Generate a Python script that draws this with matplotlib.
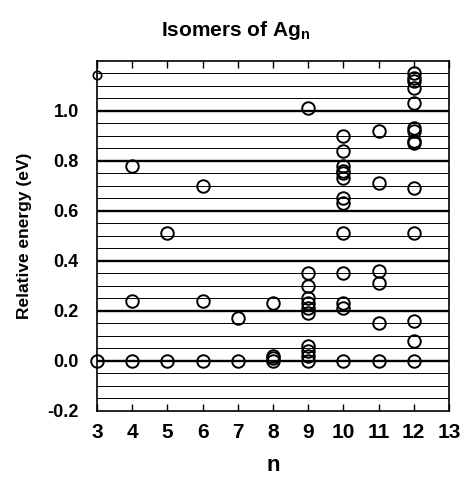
import numpy as np
import matplotlib
matplotlib.use("Agg")
from matplotlib import pyplot as plt
from matplotlib import font_manager

# relative energies (eV) of the isomers found for each cluster size n
ag3 = [0.0]
ag4 = [0.0, 0.24, 0.78]
ag5 = [0.0, 0.51]
ag6 = [0.0, 0.24, 0.70]
ag7 = [0.0, 0.17]
ag8 = [0.0, 0.01, 0.02, 0.23]
ag9 = [0.0, 0.02, 0.04, 0.06, 0.19, 0.21, 0.23, 0.25, 0.30, 0.35, 1.01]
ag10 = [0.0, 0.21, 0.23, 0.35, 0.51, 0.63, 0.65, 0.73, 0.75, 0.76, 0.78, 0.84, 0.90]
ag11 = [0.0, 0.15, 0.31, 0.36, 0.71, 0.92]
ag12 = [0.0, 0.08, 0.16, 0.51, 0.69, 0.87, 0.88, 0.92, 0.93, 1.03, 1.09, 1.12, 1.13, 1.15]
cluster_sizes = [3, 4, 5, 6, 7, 8, 9, 10, 11, 12]
energies = [ag3, ag4, ag5, ag6, ag7, ag8, ag9, ag10, ag11, ag12]

# the one high-lying Ag3 state, drawn with a smaller symbol
ag3_high_n = [3]
ag3_high_e = [1.145]

y_ticks = [-0.2, 0.0, 0.2, 0.4, 0.6, 0.8, 1.0]
x_ticks = [3, 4, 5, 6, 7, 8, 9, 10, 11, 12, 13]

names = {f.name for f in font_manager.fontManager.ttflist}
narrow = "Liberation Sans Narrow" if "Liberation Sans Narrow" in names else "Liberation Sans"
plt.rcParams['font.family'] = [narrow, 'DejaVu Sans']
plt.rcParams['font.weight'] = 'bold'
plt.rcParams['mathtext.fontset'] = 'custom'
plt.rcParams['mathtext.bf'] = narrow + ':bold'
plt.rcParams['mathtext.rm'] = narrow + ':bold'

fig = plt.figure(figsize=(4.63, 4.78), dpi=100)
ax = fig.add_axes([0.2095, 0.1408, 0.760, 0.732])

# grid of horizontal levels: thin every 0.05 eV, heavy every 0.2 eV
for k in range(-3, 24):
    level = k * 0.05
    heavy = k % 4 == 0
    ax.axhline(level, color='black', lw=1.7 if heavy else 0.7, zorder=1)

xs = [n for n, e in zip(cluster_sizes, energies) for _ in e]
ys = [v for e in energies for v in e]
ax.plot(xs, ys, linestyle='none', marker='o', ms=9, mfc='none', mec='black',
        mew=1.4, clip_on=False, zorder=3)
ax.plot(ag3_high_n, ag3_high_e, linestyle='none', marker='o', ms=6, mfc='none',
        mec='black', mew=1.2, clip_on=False, zorder=3)

ax.set_xlim(3, 13)
ax.set_ylim(-0.2, 1.2)
ax.set_xticks(x_ticks)
ax.set_yticks(y_ticks)
ax.set_yticklabels([f"{t:.1f}" for t in y_ticks], fontsize=13, fontweight='bold')
ax.set_xticklabels([str(t) for t in x_ticks], fontsize=15, fontweight='bold')
ax.tick_params(axis='x', direction='in', top=True, length=5, width=1, pad=9)
ax.tick_params(axis='y', length=0, pad=13)
for s in ax.spines.values():
    s.set_linewidth(1.2)

ax.set_xlabel("n", fontsize=16, fontweight='bold', labelpad=9)
ax.set_ylabel("Relative energy (eV)", fontsize=12.5, fontweight='bold', labelpad=11)
fig.text(0.51, 0.937, r"Isomers of Ag$_\mathbf{n}$", ha='center', va='center',
         fontsize=15, fontweight='bold')

fig.savefig("out.png", dpi=100)
